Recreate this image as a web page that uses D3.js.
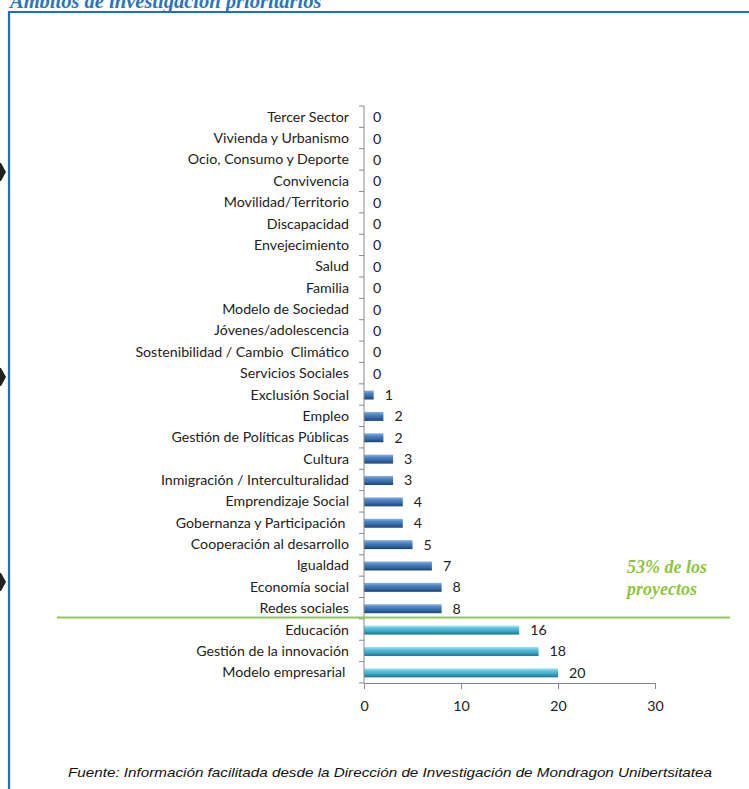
<!DOCTYPE html>
<html><head><meta charset="utf-8">
<script src="https://cdn.jsdelivr.net/npm/d3@7"></script>
<style>body{margin:0;background:#fff;}svg{display:block;}text{white-space:pre;}</style>
</head><body>
<script>
const categories = ["Tercer Sector","Vivienda y Urbanismo","Ocio, Consumo y Deporte","Convivencia","Movilidad/Territorio","Discapacidad","Envejecimiento","Salud","Familia","Modelo de Sociedad","Jóvenes/adolescencia","Sostenibilidad / Cambio  Climático","Servicios Sociales","Exclusión Social","Empleo","Gestión de Políticas Públicas","Cultura","Inmigración / Interculturalidad","Emprendizaje Social","Gobernanza y Participación ","Cooperación al desarrollo","Igualdad","Economía social","Redes sociales","Educación","Gestión de la innovación","Modelo empresarial "];
const values = [0,0,0,0,0,0,0,0,0,0,0,0,0,1,2,2,3,3,4,4,5,7,8,8,16,18,20];
const highlighted = ["Educación","Gestión de la innovación","Modelo empresarial "];
const xTicks = [0,10,20,30];
const titleText = "Ámbitos de investigación prioritarios";
const noteLines = ["53% de los","proyectos"];
const sourceText = "Fuente: Información facilitada desde la Dirección de Investigación de Mondragon Unibertsitatea";

const W = 749, H = 789;
const LF = "Lato, sans-serif";
const FS = 14.2;
const svg = d3.select("body").append("svg").attr("width", W).attr("height", H);
const defs = svg.append("defs");
function grad(id, stops){
  const g = defs.append("linearGradient").attr("id", id).attr("x1",0).attr("y1",0).attr("x2",0).attr("y2",1);
  stops.forEach(s => g.append("stop").attr("offset", s[0]).attr("stop-color", s[1]));
}
grad("gBlue", [[0,"#8fb4e0"],[0.3,"#4f86c6"],[0.7,"#2f65a3"],[1,"#1c416e"]]);
grad("gTeal", [[0,"#a9e3f2"],[0.3,"#5cc3df"],[0.7,"#34a0c0"],[1,"#1e6d86"]]);

// title (cut off at top, as in the reference)
svg.append("text").attr("x", 10).attr("y", 7.5)
  .attr("font-family","Liberation Serif, serif").attr("font-style","italic").attr("font-weight","bold")
  .attr("font-size", 20.5).attr("fill","#2a74c0").text(titleText);

// frame
svg.append("path").attr("d", `M9,${H+5} V12 H${W+5}`).attr("fill","none").attr("stroke","#1f6fc0").attr("stroke-width",2.2);

// chevrons on the left
[172, 377, 582].forEach(cy => {
  svg.append("path").attr("d", `M-2,${cy-9} L1,${cy-9} L6,${cy} L1,${cy+9} L-2,${cy+9} Z`).attr("fill","#222");
});

const x = d3.scaleLinear().domain([0,30]).range([364, 655]);
const y = d3.scaleBand().domain(categories).range([106, 683]).paddingInner(0).paddingOuter(0);

// bars
const barH = 9;
svg.append("g").selectAll("rect").data(categories).join("rect")
  .attr("x", x(0)).attr("y", d => y(d) + y.bandwidth()/2 - barH/2 + 0.5)
  .attr("width", (d,i) => x(values[i]) - x(0)).attr("height", barH)
  .attr("fill", d => highlighted.includes(d) ? "url(#gTeal)" : "url(#gBlue)");

// value labels
svg.append("g").selectAll("text").data(categories).join("text")
  .attr("x", (d,i) => x(values[i]) + (values[i] === 0 ? 9 : 11))
  .attr("y", d => y(d) + y.bandwidth()/2 + 5.5)
  .attr("font-family", LF).attr("font-size", FS).attr("fill","#222")
  .text((d,i) => values[i]);

// y axis
const yAxis = svg.append("g").attr("transform", `translate(${x(0)},0)`);
yAxis.append("line").attr("x1",0).attr("x2",0).attr("y1",106).attr("y2",683).attr("stroke","#888");
const bounds = categories.map(c => y(c)).concat([683]);
yAxis.selectAll("line.t").data(bounds).join("line").attr("class","t")
  .attr("x1",-5).attr("x2",0).attr("y1",d=>d).attr("y2",d=>d).attr("stroke","#888");
svg.append("g").selectAll("text").data(categories).join("text")
  .attr("x", 349).attr("y", d => y(d) + y.bandwidth()/2 + 5)
  .attr("text-anchor","end").attr("font-family", LF).attr("font-size", FS).attr("fill","#222")
  .text(d => d);

// x axis
const xAxis = svg.append("g").attr("transform", `translate(0,683)`)
  .call(d3.axisBottom(x).tickValues(xTicks).tickSize(6).tickPadding(12).tickSizeOuter(0));
xAxis.select(".domain").attr("stroke","#888");
xAxis.selectAll(".tick line").attr("stroke","#888");
xAxis.selectAll(".tick text").attr("font-family", LF).attr("font-size",FS).attr("fill","#222");

// green separator
svg.append("line").attr("x1",57).attr("x2",730).attr("y1",617.5).attr("y2",617.5)
  .attr("stroke","#92c84f").attr("stroke-width",2);
svg.append("g").selectAll("text").data(noteLines).join("text")
  .attr("x", 627).attr("y", (d,i) => 573 + i*22)
  .attr("font-family","Liberation Serif, serif").attr("font-style","italic").attr("font-weight","bold")
  .attr("font-size",18).attr("fill","#8dc63f").text(d => d);

// source
svg.append("text").attr("x", 68).attr("y", 777)
  .attr("font-family","Liberation Sans, Arial, sans-serif").attr("font-style","italic")
  .attr("font-size",13.5).attr("fill","#111")
  .attr("textLength", 644).attr("lengthAdjust","spacingAndGlyphs").text(sourceText);
</script>
</body></html>
